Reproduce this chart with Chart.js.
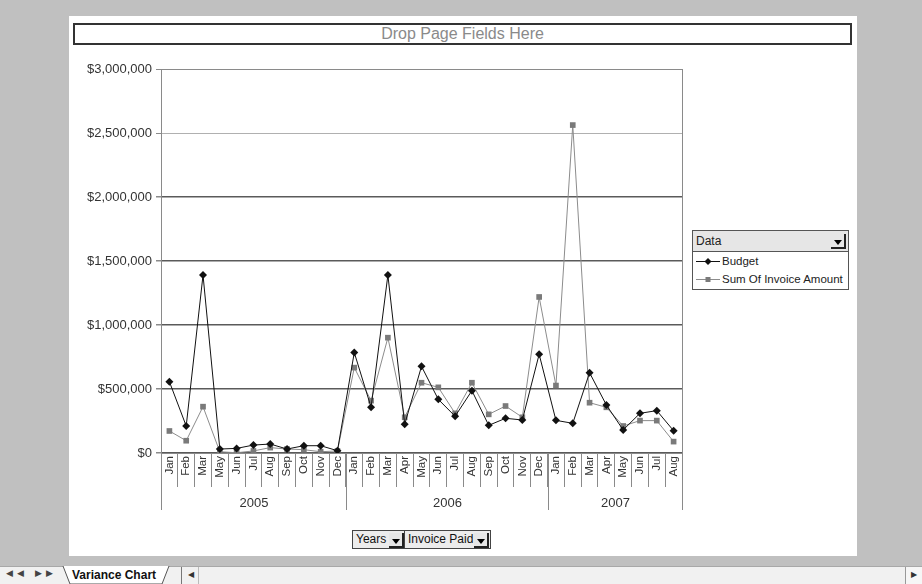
<!DOCTYPE html>
<html>
<head>
<meta charset="utf-8">
<script src="https://cdn.jsdelivr.net/npm/chart.js@4/dist/chart.umd.min.js"></script>
<style>
  body { margin: 0; width: 922px; height: 584px; background: #c0c0c0; position: relative; overflow: hidden;
         font-family: "Liberation Sans", Arial, sans-serif; }
  .abs { position: absolute; }
  #panel { left: 69px; top: 16px; width: 788px; height: 540px; background: #fff; }
  #pageFields { left: 73px; top: 23px; width: 775px; height: 18px; border: 2px solid #333; background: #fff;
                color: #8a8a8a; font-size: 16px; text-align: center; line-height: 18px; z-index: 2; }
  #myChart { left: 0; top: 0; z-index: 1; pointer-events: none; }
  #legend { left: 692px; top: 230px; width: 155px; height: 58px; border: 1px solid #555; background: #fff;
            z-index: 2; font-size: 11.5px; color: #222; overflow: hidden; white-space: nowrap; }
  #legend .head { height: 20px; background: #e6e6e6; border-bottom: 1px solid #555; position: relative;
                  line-height: 20px; padding-left: 3px; font-size: 12px; }
  .drop { position: absolute; width: 13px; height: 13px; background: #e6e6e6;
          border-right: 2px solid #222; border-bottom: 2px solid #222; }
  .drop::after { content: ""; position: absolute; left: 3px; top: 6px; border-left: 4px solid transparent;
                 border-right: 4px solid transparent; border-top: 5px solid #000; }
  #legend .row { height: 18px; line-height: 18px; display: flex; align-items: center; padding-left: 3px; }
  #legend svg { margin-right: 2px; flex: none; }
  .btn { top: 530px; height: 17px; border: 1px solid #444; background: #ececec; z-index: 2;
         font-size: 12px; line-height: 17px; padding-left: 3px; color: #111; }
  #tabbar { left: 0; top: 566px; width: 922px; height: 18px; background: #f1f1f1; border-top: 1px solid #a8a8a8;
            font-size: 12px; color: #111; }
</style>
</head>
<body>
<div id="panel" class="abs"></div>
<div id="pageFields" class="abs">Drop Page Fields Here</div>
<canvas id="myChart" class="abs" width="922" height="584"></canvas>
<div id="legend" class="abs"></div>
<div class="abs btn" style="left:352px;width:49px;">Years<span class="drop" style="right:1px;top:2px;"></span></div>
<div class="abs btn" style="left:404px;width:82px;">Invoice Paid<span class="drop" style="right:1px;top:2px;"></span></div>
<div id="tabbar" class="abs">
  <span class="abs" style="left:6px;top:1px;font-size:9px;letter-spacing:4px;color:#444;">&#9664;&#9664; &#9654;&#9654;</span>
  <svg class="abs" style="left:62px;top:-1px;" width="120" height="19">
    <polyline points="1,0 8,18 100,18 107,0" fill="#fff" stroke="#555" stroke-width="1"/>
  </svg>
  <span class="abs" style="left:72px;top:1px;font-weight:bold;">Variance Chart</span>
  <span class="abs" style="left:181px;top:0;height:18px;border-left:1px solid #777;"></span>
  <span class="abs" style="left:188px;top:3px;font-size:8px;color:#333;">&#9664;</span>
  <span class="abs" style="left:198px;top:0;height:18px;border-left:1px solid #bbb;"></span>
  <span class="abs" style="left:905px;top:0;height:18px;width:16px;border-left:1px solid #999;background:#f6f6f6;"></span>
  <span class="abs" style="left:911px;top:3px;font-size:8px;color:#333;">&#9654;</span>
</div>
<script>
const years = ["2005", "2006", "2007"];
const months2005 = ["Jan", "Feb", "Mar", "May", "Jun", "Jul", "Aug", "Sep", "Oct", "Nov", "Dec"];
const months2006 = ["Jan", "Feb", "Mar", "Apr", "May", "Jun", "Jul", "Aug", "Sep", "Oct", "Nov", "Dec"];
const months2007 = ["Jan", "Feb", "Mar", "Apr", "May", "Jun", "Jul", "Aug"];

const budget = [
  557000, 211000, 1390000, 31000, 36000, 62000, 70000, 31000, 57000, 57000, 18000,
  785000, 357000, 1390000, 224000, 677000, 419000, 287000, 487000, 216000, 271000, 258000, 771000,
  255000, 232000, 627000, 375000, 180000, 310000, 331000, 174000
];
const invoiceAmount = [
  172000, 96000, 362000, 10000, 2000, 16000, 42000, 31000, 26000, 10000, 16000,
  667000, 409000, 901000, 279000, 549000, 513000, 310000, 549000, 302000, 367000, 279000, 1219000,
  527000, 2562000, 393000, 357000, 211000, 253000, 253000, 89000
];

const yearMonths = [months2005, months2006, months2007];
const labels = yearMonths.flat();

const datasets = [
  {
    label: "Budget",
    data: budget,
    borderColor: "#111",
    backgroundColor: "#111",
    borderWidth: 1,
    pointStyle: "rectRot",
    pointRadius: 4,
    pointBorderWidth: 0,
    tension: 0,
    order: 1,
  },
  {
    label: "Sum Of Invoice Amount",
    data: invoiceAmount,
    borderColor: "#8c8c8c",
    backgroundColor: "#7a7a7a",
    borderWidth: 1,
    pointStyle: "rect",
    pointRadius: 4,
    pointBorderWidth: 0,
    tension: 0,
    order: 2,
  },
];

// year row under the month labels + plot frame
const yearRow = {
  id: "yearRow",
  afterDraw(chart) {
    const ctx = chart.ctx;
    const x = chart.scales.x;
    const area = chart.chartArea;
    const step = x.getPixelForValue(1) - x.getPixelForValue(0);
    ctx.save();
    ctx.strokeStyle = "#8a8a8a";
    ctx.lineWidth = 1;
    ctx.strokeRect(Math.round(area.left) + 0.5, Math.round(area.top) + 0.5,
      Math.round(area.right - area.left), Math.round(area.bottom - area.top));
    ctx.fillStyle = "#333";
    ctx.font = "13px 'Liberation Sans', Arial, sans-serif";
    ctx.textAlign = "center";
    ctx.textBaseline = "middle";
    let start = 0;
    yearMonths.forEach((months, i) => {
      const x0 = Math.round(x.getPixelForValue(start) - step / 2) + 0.5;
      const x1 = Math.round(x.getPixelForValue(start + months.length - 1) + step / 2) + 0.5;
      ctx.beginPath();
      ctx.moveTo(x0, x.top);
      ctx.lineTo(x0, x.top + 57);
      ctx.moveTo(x1, x.top);
      ctx.lineTo(x1, x.top + 57);
      ctx.stroke();
      ctx.fillText(years[i], (x0 + x1) / 2, x.top + 50);
      start += months.length;
    });
    ctx.restore();
  },
};

function drawChart() {
  const ctx = document.getElementById("myChart").getContext("2d");
  new Chart(ctx, {
    type: "line",
    data: { labels, datasets },
    plugins: [yearRow],
    options: {
      responsive: false,
      animation: false,
      devicePixelRatio: 1,
      layout: { padding: { left: 81, right: 240, top: 69, bottom: 71 } },
      plugins: { legend: { display: false }, tooltip: { enabled: false } },
      scales: {
        x: {
          type: "category",
          offset: true,
          afterFit: (scale) => { scale.height = 60; },
          grid: {
            offset: true,
            drawOnChartArea: false,
            drawTicks: true,
            tickLength: 34,
            tickColor: "#8a8a8a",
          },
          border: { display: true, color: "#8a8a8a" },
          ticks: {
            autoSkip: false,
            minRotation: 90,
            maxRotation: 90,
            padding: -31,
            color: "#333",
            font: { family: "'Liberation Sans', Arial, sans-serif", size: 11.5 },
          },
        },
        y: {
          min: 0,
          max: 3000000,
          afterFit: (scale) => { scale.width = 80; },
          grid: {
            color: (c) => (c.tick.value === 2500000 ? "#b0b0b0" : c.tick.value === 3000000 ? "#8a8a8a" : "#5a5a5a"),
            lineWidth: (c) => (c.tick.value === 3000000 || c.tick.value === 2500000 ? 1 : 1.5),
            tickLength: 5,
            tickColor: "#8a8a8a",
          },
          border: { display: true, color: "#8a8a8a" },
          ticks: {
            stepSize: 500000,
            padding: 4,
            color: "#333",
            font: { family: "'Liberation Sans', Arial, sans-serif", size: 13 },
            callback: (v) => "$" + Number(v).toLocaleString("en-US"),
          },
        },
      },
    },
  });
}

function drawLegend() {
  const box = document.getElementById("legend");
  let html = '<div class="head">Data<span class="drop" style="right:2px;top:3px;"></span></div>';
  datasets.forEach((d) => {
    const marker = d.pointStyle === "rectRot"
      ? '<polygon points="12,3 15.5,6.5 12,10 8.5,6.5" fill="' + d.backgroundColor + '"/>'
      : '<rect x="9.5" y="4" width="5" height="5" fill="' + d.backgroundColor + '"/>';
    html += '<div class="row"><svg width="24" height="13"><line x1="0" y1="6.5" x2="24" y2="6.5" stroke="' +
      d.borderColor + '" stroke-width="1"/>' + marker + "</svg>" + d.label + "</div>";
  });
  box.innerHTML = html;
}

drawChart();
drawLegend();
</script>
</body>
</html>
